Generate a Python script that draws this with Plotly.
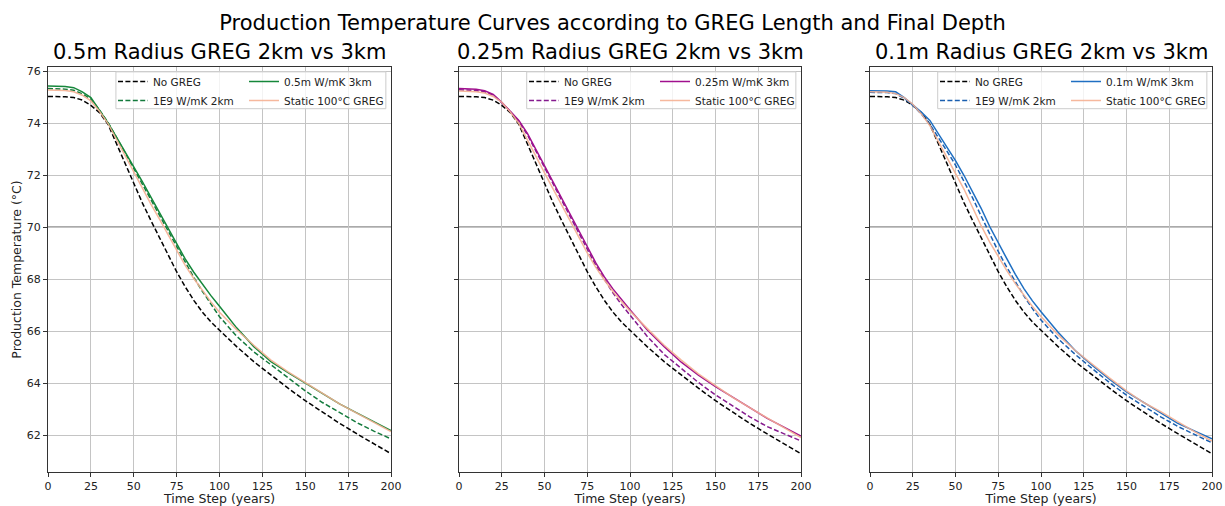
import plotly.graph_objects as go

# ---------------- data ----------------
years = [0, 5, 10, 15, 20, 25, 30, 35, 40, 45, 50, 55, 60, 65, 70, 75, 80, 85,
         90, 95, 100, 110, 120, 130, 140, 150, 160, 170, 180, 190, 200]

no_greg = [75.02, 75.02, 75.01, 74.98, 74.88, 74.68, 74.40, 73.95, 73.20, 72.40, 71.65,
           70.93, 70.25, 69.58, 68.92, 68.28, 67.70, 67.18, 66.73, 66.35, 66.03,
           65.40, 64.82, 64.30, 63.80, 63.32, 62.88, 62.45, 62.05, 61.66, 61.28]

# panel 1 : 0.5 m radius
p1_3km = [75.42, 75.41, 75.40, 75.36, 75.20, 74.98, 74.50, 74.00, 73.45, 72.90, 72.30,
          71.75, 71.15, 70.55, 69.95, 69.32, 68.77, 68.26, 67.80, 67.36, 66.95,
          66.12, 65.40, 64.82, 64.40, 64.00, 63.58, 63.20, 62.85, 62.50, 62.17]
p1_2km = [75.33, 75.32, 75.30, 75.26, 75.12, 74.92, 74.50, 74.02, 73.45, 72.85, 72.25,
          71.65, 71.05, 70.45, 69.85, 69.20, 68.62, 68.06, 67.53, 67.02, 66.55,
          65.80, 65.20, 64.70, 64.20, 63.70, 63.25, 62.85, 62.48, 62.15, 61.85]
p1_static = [75.27, 75.26, 75.25, 75.20, 75.07, 74.85, 74.45, 73.98, 73.35, 72.72, 72.08,
             71.45, 70.88, 70.30, 69.70, 69.10, 68.52, 68.02, 67.56, 67.12, 66.72,
             66.05, 65.45, 64.88, 64.43, 64.02, 63.60, 63.20, 62.84, 62.48, 62.13]

# panel 2 : 0.25 m radius
p2_3km = [75.33, 75.32, 75.30, 75.24, 75.10, 74.80, 74.45, 74.10, 73.60, 72.98, 72.38,
          71.78, 71.17, 70.55, 69.90, 69.25, 68.62, 68.08, 67.62, 67.20, 66.82,
          66.05, 65.40, 64.80, 64.30, 63.86, 63.45, 63.05, 62.65, 62.30, 61.96]
p2_2km = [75.28, 75.27, 75.25, 75.20, 75.07, 74.78, 74.45, 74.05, 73.55, 72.92, 72.30,
          71.68, 71.05, 70.45, 69.83, 69.15, 68.52, 67.98, 67.47, 67.02, 66.60,
          65.80, 65.10, 64.55, 64.02, 63.54, 63.12, 62.70, 62.33, 62.05, 61.77]
p2_static = [75.23, 75.22, 75.20, 75.15, 75.02, 74.80, 74.42, 73.98, 73.38, 72.72, 72.08,
             71.45, 70.85, 70.25, 69.62, 69.00, 68.45, 67.96, 67.52, 67.13, 66.77,
             66.10, 65.45, 64.88, 64.35, 63.90, 63.45, 63.05, 62.68, 62.28, 61.90]

# panel 3 : 0.1 m radius
p3_3km = [75.24, 75.24, 75.23, 75.20, 74.98, 74.70, 74.42, 74.10, 73.60, 73.08, 72.55,
          71.98, 71.38, 70.72, 70.02, 69.38, 68.78, 68.18, 67.63, 67.16, 66.74,
          65.95, 65.25, 64.68, 64.15, 63.66, 63.25, 62.83, 62.45, 62.15, 61.85]
p3_2km = [75.18, 75.18, 75.17, 75.13, 74.95, 74.68, 74.35, 73.95, 73.45, 72.92, 72.38,
          71.78, 71.12, 70.42, 69.72, 69.06, 68.45, 67.88, 67.35, 66.86, 66.42,
          65.70, 65.10, 64.55, 64.02, 63.53, 63.12, 62.70, 62.33, 62.00, 61.70]
p3_static = [75.20, 75.19, 75.18, 75.13, 74.98, 74.72, 74.35, 73.90, 73.30, 72.70, 72.10,
             71.45, 70.75, 70.05, 69.42, 68.85, 68.32, 67.82, 67.36, 66.94, 66.56,
             65.85, 65.25, 64.72, 64.20, 63.70, 63.25, 62.90, 62.50, 62.12, 61.77]

threshold = 70

subplot_titles = ["0.5m Radius GREG 2km vs 3km",
                  "0.25m Radius GREG 2km vs 3km",
                  "0.1m Radius GREG 2km vs 3km"]
labels_3km = ["0.5m W/mK 3km", "0.25m W/mK 3km", "0.1m W/mK 3km"]
label_2km = "1E9 W/mK 2km"
label_none = "No GREG"
label_static = "Static 100°C GREG"
x_ticks = [0, 25, 50, 75, 100, 125, 150, 175, 200]
y_ticks = [62, 64, 66, 68, 70, 72, 74, 76]

series_3km = [p1_3km, p2_3km, p3_3km]
series_2km = [p1_2km, p2_2km, p3_2km]
series_static = [p1_static, p2_static, p3_static]
colors_3km = ["#15873a", "#a0108e", "#1f6fc2"]
colors_2km = ["#137a3c", "#851a8e", "#1a5fb0"]
color_static = "#f5b092"

# ---------------- layout geometry ----------------
W, H = 1225, 506
ml, mr, mt, mb = 48, 13, 67, 34
pw = W - ml - mr
panel_px = [(48, 391), (459, 801), (870, 1212)]
domains = [[(a - ml) / pw, (b - ml) / pw] for a, b in panel_px]

FONT = "DejaVu Sans"
fig = go.Figure()

for i in range(3):
    xa = "x" if i == 0 else f"x{i+1}"
    ya = "y" if i == 0 else f"y{i+1}"
    legA = "legend" if i == 0 else f"legend{2*i+1}"
    legB = f"legend{2*i+2}"
    dash = "5px,2.4px"
    fig.add_trace(go.Scatter(x=years, y=no_greg, mode="lines", name=label_none,
                             line=dict(color="black", width=1.5, dash=dash),
                             xaxis=xa, yaxis=ya, legend=legA, legendrank=1))
    fig.add_trace(go.Scatter(x=years, y=series_2km[i], mode="lines", name=label_2km,
                             line=dict(color=colors_2km[i], width=1.5, dash=dash),
                             xaxis=xa, yaxis=ya, legend=legA, legendrank=2))
    fig.add_trace(go.Scatter(x=years, y=series_3km[i], mode="lines", name=labels_3km[i],
                             line=dict(color=colors_3km[i], width=1.5),
                             xaxis=xa, yaxis=ya, legend=legB, legendrank=1))
    fig.add_trace(go.Scatter(x=years, y=series_static[i], mode="lines", name=label_static,
                             line=dict(color=color_static, width=1.5), opacity=0.9,
                             xaxis=xa, yaxis=ya, legend=legB, legendrank=2))

layout = dict(
    width=W, height=H,
    margin=dict(l=ml, r=mr, t=mt, b=mb),
    plot_bgcolor="white", paper_bgcolor="white",
    font=dict(family=FONT, color="#222", size=10),
    title=dict(text="Production Temperature Curves according to GREG Length and Final Depth",
               x=0.5, xanchor="center", y=1 - 23 / H, yanchor="middle",
               font=dict(size=21, color="black", family=FONT)),
    showlegend=True,
)

axis_common = dict(showline=True, linecolor="#333", linewidth=1, mirror=True,
                   showgrid=True, gridcolor="#c4c4c4", gridwidth=1,
                   ticks="outside", ticklen=4, tickcolor="#333", zeroline=False,
                   automargin=False,
                   tickfont=dict(size=11, color="#222"))

shapes = []
annotations = []
for i in range(3):
    xk = "xaxis" if i == 0 else f"xaxis{i+1}"
    yk = "yaxis" if i == 0 else f"yaxis{i+1}"
    xa = "x" if i == 0 else f"x{i+1}"
    ya = "y" if i == 0 else f"y{i+1}"
    layout[xk] = dict(axis_common, domain=domains[i], range=[0, 200],
                      tickvals=x_ticks, anchor=ya,
                      title=dict(text="Time Step (years)", standoff=1,
                                 font=dict(size=12.5, color="#222")))
    layout[yk] = dict(axis_common, domain=[0, 1], range=[60.577, 76.154],
                      tickvals=y_ticks, anchor=xa,
                      showticklabels=(i == 0))
    if i == 0:
        layout[yk]["title"] = dict(text="Production Temperature (°C)", standoff=2,
                                   font=dict(size=12.5, color="#222"))
    # threshold line
    shapes.append(dict(type="line", xref=f"{xa} domain", yref=ya, x0=0, x1=1,
                       y0=threshold, y1=threshold, line=dict(color="#555", width=1),
                       layer="below"))
    # legend frame
    shapes.append(dict(type="rect", xref=f"{xa} domain", yref=f"{ya} domain",
                       x0=0.198, x1=0.985, y0=0.897, y1=0.988,
                       line=dict(color="#cccccc", width=1),
                       fillcolor="rgba(255,255,255,0.8)", layer="above"))
    # subplot title
    annotations.append(dict(text=subplot_titles[i], xref="paper", yref="paper",
                            x=(domains[i][0] + domains[i][1]) / 2, y=1,
                            xanchor="center", yanchor="bottom", yshift=1,
                            showarrow=False, font=dict(size=21, color="black", family=FONT)))
    # legends
    legA = "legend" if i == 0 else f"legend{2*i+1}"
    legB = f"legend{2*i+2}"
    base = panel_px[i][0]
    for key, left in ((legA, base + 65), (legB, base + 196)):
        layout[key] = dict(x=(left - ml) / pw, xanchor="left", y=1.0, yanchor="top",
                           bgcolor="rgba(0,0,0,0)", borderwidth=0,
                           font=dict(size=10.5, color="#222", family=FONT),
                           tracegroupgap=0, itemwidth=30)

layout["shapes"] = shapes
layout["annotations"] = annotations
fig.update_layout(**layout)

fig.write_html("out.html", config={"displayModeBar": False},
               post_script="document.body.style.margin='0';")
